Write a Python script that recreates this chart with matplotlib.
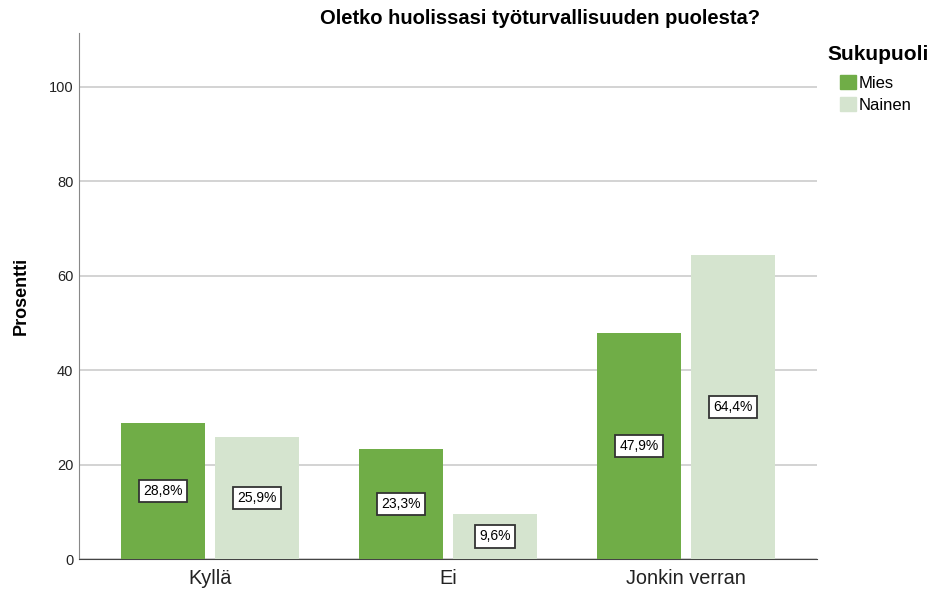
import matplotlib.pyplot as plt
import numpy as np
from matplotlib.patches import Patch

plt.rcParams['font.family'] = ['Liberation Sans', 'DejaVu Sans']

# data
categories = ["Kyllä", "Ei", "Jonkin verran"]
groups = ["Mies", "Nainen"]
mies = [28.8, 23.3, 47.9]
nainen = [25.9, 9.6, 64.4]
colors = ["#70ad47", "#d5e4cf"]

fig = plt.figure(figsize=(9.29, 5.92), dpi=100)
ax = fig.add_axes([0.085, 0.0557, 0.7944, 0.8886])

x = np.arange(len(categories))
width = 0.353
offset = width / 2 + 0.021

for vals, off, col in [(mies, -offset, colors[0]), (nainen, offset, colors[1])]:
    bars = ax.bar(x + off, vals, width=width, color=col, zorder=3)
    for b, v in zip(bars, vals):
        ax.text(b.get_x() + b.get_width() / 2, v / 2, f"{v:.1f}%".replace(".", ","),
                ha="center", va="center", fontsize=10, zorder=4,
                bbox=dict(boxstyle="square,pad=0.3", fc="white", ec="#333333", lw=1.3))

ax.set_xlim(-0.55, 2.55)
ax.set_ylim(0, 111.4)
ax.set_yticks([0, 20, 40, 60, 80, 100])
ax.set_xticks(x)
ax.set_xticklabels(categories, fontsize=14.3, color="#222222")
ax.tick_params(axis="y", labelsize=10.5, length=0, pad=4, labelcolor="#222222")
ax.tick_params(axis="x", length=0, pad=7)
ax.yaxis.grid(True, color="#cccccc", lw=1.2, zorder=0)
ax.set_axisbelow(True)

for s in ["top", "right"]:
    ax.spines[s].set_visible(False)
ax.spines["left"].set_color("#888888")
ax.spines["bottom"].set_color("#444444")

ax.set_ylabel("Prosentti", fontsize=13, fontweight="bold", labelpad=14)
fig.text(540 / 929, 1 - 18 / 592, "Oletko huolissasi työturvallisuuden puolesta?",
         fontsize=14.5, fontweight="bold", ha="center", va="center")

# legend
fig.text(827 / 929, 1 - 55 / 592, "Sukupuoli", fontsize=15, fontweight="bold",
         ha="left", va="center")
handles = [Patch(color=c, label=g) for c, g in zip(colors, groups)]
fig.legend(handles=handles, loc="upper left", bbox_to_anchor=(840 / 929, 1 - 75 / 592),
           frameon=False, fontsize=12, borderpad=0, borderaxespad=0,
           handlelength=0.95, handleheight=0.95, handletextpad=0.15, labelspacing=0.35)

fig.savefig("out.png", dpi=100)
